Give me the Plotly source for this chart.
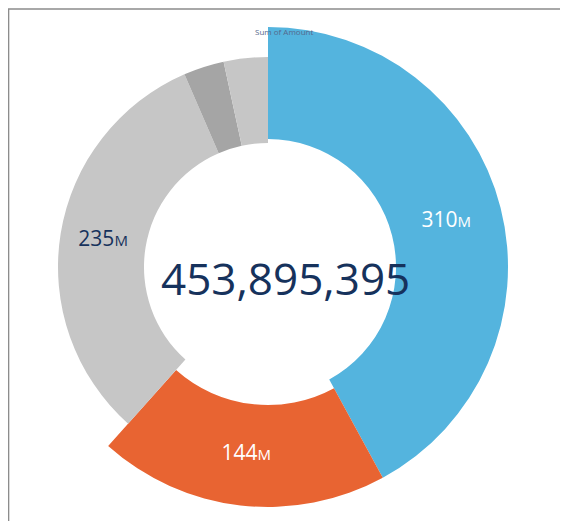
import plotly.graph_objects as go

# slice data (clockwise from 12 o'clock)
segments = ["Closed Won", "Open", "Closed Lost", "Other A", "Other B"]
amounts = [310e6, 144e6, 235e6, 23e6, 25e6]
labels = ["310", "144", "235", "", ""]
center_total = "453,895,395"

colors = ["#54b4de", "#e86432", "#c6c6c6", "#a5a5a5", "#c6c6c6"]
inner = [128, 138, 124, 124, 124]
outer = [240, 240, 210, 210, 210]
label_colors = ["white", "white", "#16325c", "#16325c", "#16325c"]

total = sum(amounts)
widths = [a / total * 360 for a in amounts]
centers = []
acc = 0
for w in widths:
    centers.append(acc + w / 2)
    acc += w

fig = go.Figure()
fig.add_trace(go.Barpolar(
    theta=centers, width=widths, base=inner,
    r=[o - i for o, i in zip(outer, inner)],
    marker=dict(color=colors, line=dict(width=0)),
    hoverinfo="skip",
))
# value labels on the ring
fig.add_trace(go.Scatterpolar(
    theta=centers[:3], r=[(o + i) / 2 for o, i in zip(outer[:3], inner[:3])],
    mode="text",
    text=[t + "<span style='font-size:15px'>M</span>" for t in labels[:3]],
    textfont=dict(size=21, color=label_colors[:3], family="Open Sans"),
    hoverinfo="skip",
))

fig.update_layout(
    width=568, height=521,
    margin=dict(l=0, r=0, t=0, b=0),
    paper_bgcolor="white",
    showlegend=False,
    polar=dict(
        domain=dict(x=[10 / 568, 510 / 568], y=[12 / 521, 512 / 521]),
        bgcolor="white",
        radialaxis=dict(range=[0, 250], visible=False),
        angularaxis=dict(direction="clockwise", rotation=90, visible=False),
        hole=0,
    ),
    annotations=[
        dict(text=center_total, x=277 / 568, y=1 - 270 / 521, xref="paper", yref="paper",
             showarrow=False, font=dict(size=44, color="#16325c", family="Open Sans")),
        dict(text="Sum of Amount", x=276 / 568, y=1 - 16 / 521, xref="paper", yref="paper",
             showarrow=False, font=dict(size=8, color="#54698d", family="Open Sans")),
    ],
    shapes=[dict(type="rect", xref="paper", yref="paper", x0=0.001, y0=0.002, x1=0.998, y1=0.998,
                 line=dict(color="#8c8c8c", width=1.5))],
)

fig.write_html("out.html")
